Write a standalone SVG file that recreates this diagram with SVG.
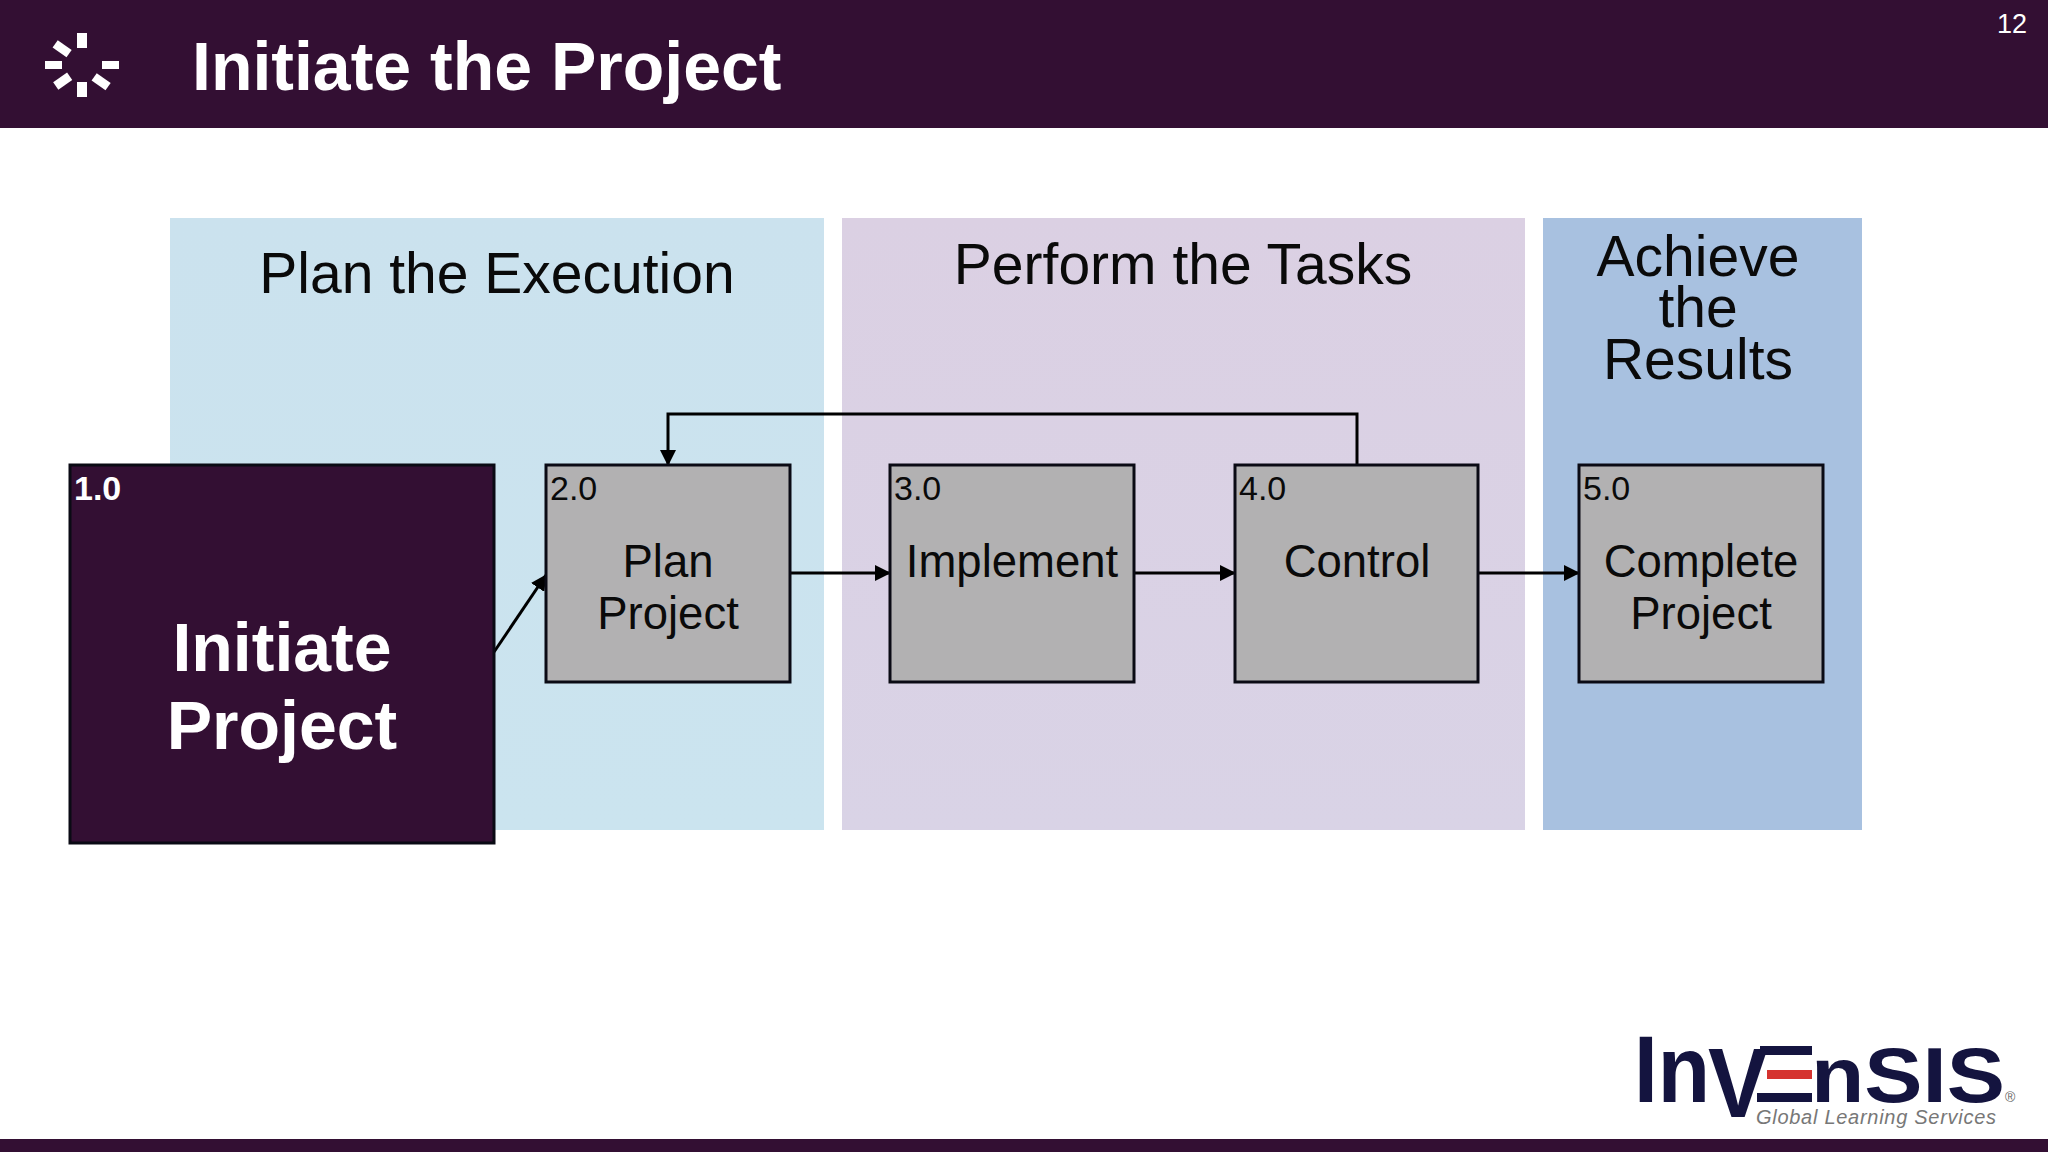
<svg xmlns="http://www.w3.org/2000/svg" width="2048" height="1152" viewBox="0 0 2048 1152">
<style>
text{font-family:"Liberation Sans",Arial,sans-serif;fill:#0a0a0a}
.c{text-anchor:middle}
.box{fill:#b2b1b2;stroke:#0a0a14;stroke-width:3}
.h{font-size:57px}
.l{font-size:45.5px}
.n{font-size:34px}
.w{fill:#fff;font-weight:bold}
.con{fill:none;stroke:#000;stroke-width:3;marker-end:url(#a)}
.lg{fill:#14143f;font-weight:bold}
</style>
<defs>
<marker id="a" markerUnits="userSpaceOnUse" markerWidth="16" markerHeight="16" refX="15" refY="8" orient="auto"><path d="M0 0L16 8L0 16z" fill="#000"/></marker>
<linearGradient id="pg" x1="0" y1="0" x2="0" y2="1"><stop offset="0" stop-color="#dbd0e3"/><stop offset="1" stop-color="#d9d3e6"/></linearGradient>
<linearGradient id="bg" x1="0" y1="0" x2="0" y2="1"><stop offset="0" stop-color="#cbe2ee"/><stop offset="1" stop-color="#cbe4ef"/></linearGradient>
</defs>
<rect width="2048" height="1152" fill="#fff"/>
<g id="header">
<rect width="2048" height="128" fill="#330f33"/>
<rect x="0" y="1139" width="2048" height="13" fill="#330f33"/>
<g fill="#fff">
<rect x="77" y="33" width="10" height="15"/><rect x="77" y="82" width="10" height="15"/>
<rect x="45" y="61" width="17" height="8"/><rect x="102" y="61" width="17" height="8"/>
<rect x="54" y="44" width="17" height="9" transform="rotate(35 62 48)"/>
<rect x="54" y="77" width="17" height="9" transform="rotate(-35 62 81)"/>
<rect x="93" y="77" width="17" height="9" transform="rotate(35 101 81)"/>
</g>
<text x="192" y="90" font-size="68" class="w">Initiate the Project</text>
<text x="1997" y="33" font-size="27" style="fill:#fff">12</text>
</g>
<g id="panels">
<rect x="170" y="218" width="654" height="612" fill="url(#bg)"/>
<rect x="842" y="218" width="683" height="612" fill="url(#pg)"/>
<rect x="1543" y="218" width="319" height="612" fill="#a8c1e0"/>
<text x="497" y="293" class="c h">Plan the Execution</text>
<text x="1183" y="284" class="c h">Perform the Tasks</text>
<text x="1698" y="276" class="c h">Achieve</text>
<text x="1698" y="327" class="c h">the</text>
<text x="1698" y="379" class="c h">Results</text>
</g>
<g id="connectors">
<path class="con" d="M494 652L546 575"/>
<path class="con" d="M790 573H890"/>
<path class="con" d="M1134 573H1235"/>
<path class="con" d="M1478 573H1579"/>
<path class="con" d="M1357 465V414H668V465"/>
</g>
<g id="node1">
<rect x="70" y="465" width="424" height="378" fill="#330f33" stroke="#0a0a14" stroke-width="3"/>
<text x="74" y="500" class="n w">1.0</text>
<text x="282" y="671" font-size="68" class="c w">Initiate</text>
<text x="282" y="749" font-size="68" class="c w">Project</text>
</g>
<g id="node2">
<rect class="box" x="546" y="465" width="244" height="217"/>
<text x="550" y="500" class="n">2.0</text>
<text x="668" y="577" class="c l">Plan</text>
<text x="668" y="629" class="c l">Project</text>
</g>
<g id="node3">
<rect class="box" x="890" y="465" width="244" height="217"/>
<text x="894" y="500" class="n">3.0</text>
<text x="1012" y="577" class="c l">Implement</text>
</g>
<g id="node4">
<rect class="box" x="1235" y="465" width="243" height="217"/>
<text x="1239" y="500" class="n">4.0</text>
<text x="1357" y="577" class="c l">Control</text>
</g>
<g id="node5">
<rect class="box" x="1579" y="465" width="244" height="217"/>
<text x="1583" y="500" class="n">5.0</text>
<text x="1701" y="577" class="c l">Complete</text>
<text x="1701" y="629" class="c l">Project</text>
</g>
<g id="logo">
<text x="1634" y="1102" font-size="94" class="lg" textLength="76" lengthAdjust="spacingAndGlyphs">In</text>
<text x="1708" y="1117" font-size="98" class="lg" textLength="60" lengthAdjust="spacingAndGlyphs">V</text>
<rect x="1760" y="1046" width="52" height="9" fill="#14143f"/>
<rect x="1767" y="1070" width="45" height="9" fill="#d5332f"/>
<rect x="1757" y="1093" width="55" height="9" fill="#14143f"/>
<text x="1811" y="1102" font-size="78" class="lg" textLength="194" lengthAdjust="spacingAndGlyphs">nSIS</text>
<text x="2005" y="1102" font-size="14" style="fill:#666">®</text>
<text x="1756" y="1124" font-size="20" font-style="italic" style="fill:#777" textLength="240">Global Learning Services</text>
</g>
</svg>
